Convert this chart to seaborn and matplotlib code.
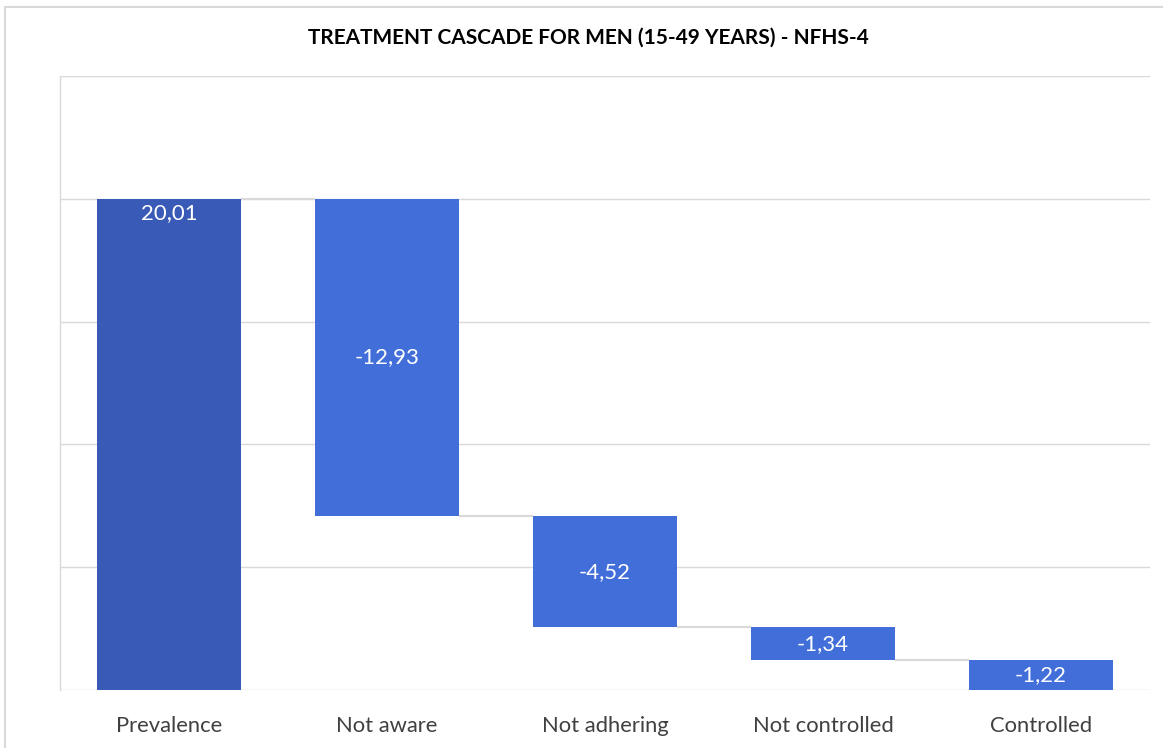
import matplotlib
matplotlib.use("Agg")
import matplotlib.pyplot as plt
import seaborn as sns
import pandas as pd
import numpy as np

# Data - treatment cascade, men 15-49, NFHS-4
steps = ['Prevalence', 'Not aware', 'Not adhering', 'Not controlled', 'Controlled']
changes = [20.01, -12.93, -4.52, -1.34, -1.22]

total_color = '#395BB7'
step_color = '#426ED9'
grid_color = '#D9D9D9'

# running totals for the waterfall
ends = np.cumsum(changes)
starts = np.concatenate([[0], ends[:-1]])
lows = np.minimum(starts, ends)
heights = np.abs(changes)

df = pd.DataFrame({'Step': steps, 'Height': heights, 'Low': lows})

sns.set_theme(style='white')
plt.rcParams['font.family'] = ['Lato', 'DejaVu Sans']

fig = plt.figure(figsize=(11.63, 7.48), dpi=100)
ax = fig.add_axes([0.0516, 0.0775, 0.9372, 0.8209])

bar_w = 0.66
sns.barplot(x='Step', y='Height', data=df, ax=ax, width=bar_w,
            bottom=df['Low'].values, color=step_color, saturation=1,
            linewidth=0)
for i, p in enumerate(ax.patches):
    p.set_facecolor(total_color if i == 0 else step_color)

# connectors between bars
for i in range(len(steps) - 1):
    ax.hlines(ends[i], i + bar_w / 2, i + 1 - bar_w / 2,
              color=grid_color, linewidth=1.5, zorder=1)

# value labels
for i, v in enumerate(changes):
    txt = f"{v:.2f}".replace('.', ',')
    if i == 0:
        y = ends[0] - 0.6
    else:
        y = lows[i] + heights[i] / 2
    ax.text(i, y, txt, ha='center', va='center', color='white', fontsize=16)

ax.set_ylim(0, 25)
ax.set_xlim(-0.5, len(steps) - 0.5)
ax.set_yticks([0, 5, 10, 15, 20, 25])
ax.yaxis.grid(True, color=grid_color, linewidth=1)
ax.set_axisbelow(True)
ax.tick_params(axis='y', left=False, labelleft=False)
ax.tick_params(axis='x', bottom=False, pad=13, labelsize=15.8, labelcolor='#404040')
ax.set_xlabel('')
ax.set_ylabel('')
for s in ['top', 'right', 'bottom']:
    ax.spines[s].set_visible(False)
ax.spines['left'].set_color(grid_color)
ax.spines['left'].set_linewidth(1)

fig.text(0.5055, 0.949, 'TREATMENT CASCADE FOR MEN (15-49 YEARS) - NFHS-4',
         ha='center', va='center', fontsize=15, fontweight='bold', color='black')

# outer chart border
fig.patches.append(plt.Rectangle((0.0045, -0.01), 1.0, 1.0 - 0.0094 + 0.01,
                                 transform=fig.transFigure, fill=False,
                                 edgecolor=grid_color, linewidth=1.5))

fig.savefig('out.png', dpi=100)
